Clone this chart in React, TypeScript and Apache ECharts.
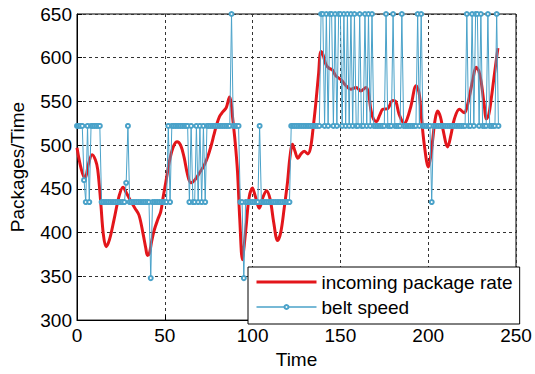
import React, { useEffect, useRef } from "react";
import * as echarts from "echarts";

// incoming package rate: time points and values
const rateTime = [
  0, 2.5, 4.6, 6.5, 8.6, 10.5, 11.8, 13.5, 15, 16.6, 18.5, 21, 24, 26.2, 28, 30.6, 33, 35.3, 37.5, 39.2,
  40.1, 41.2, 42.5, 44, 46, 47.7, 49, 50.6, 53, 55, 57, 59, 61, 63, 64.8, 67, 70, 72.4, 74.5, 76.2,
  78, 79.3, 81.2, 83, 85, 86.9, 87.8, 88.7, 90, 91.4, 92.7, 94.2, 95.2, 96.4, 98, 99.9, 101.5, 103.8, 106, 107.9,
  110, 112, 114.2, 116, 118, 119.9, 121.2, 122.7, 124, 125.8, 127.5, 129.4, 131.5, 133, 134.5, 136, 137.5, 138.9, 140, 141.8,
  143.5, 145.5, 147.5, 150.3, 153.2, 156, 158.9, 161.7, 164.6, 166, 167.4, 168.8, 170.5, 172.5, 174.1, 177, 179.8, 181.5, 183.5, 186.4,
  188, 190.2, 193.1, 194.8, 196, 197.8, 200.1, 201.5, 202.6, 204, 205.4, 207, 208.3, 211.1, 213, 214.9, 217.8, 220.6, 222, 223.5,
  225.5, 227.3, 228.8, 230.2, 231.8, 233.2, 234.5, 235.9, 237.5, 239.7,
];
const rateValue = [
  497, 472, 462, 478, 489, 483, 472, 435, 398, 384, 392, 414, 442, 452, 446, 436, 428, 420, 400, 382,
  374, 376, 390, 403, 415, 424, 440, 458, 485, 499, 504, 500, 486, 466, 457, 460, 469, 477, 487, 498,
  512, 522, 533, 538, 543, 555, 548, 530, 505, 470, 415, 369, 385, 409, 440, 451, 442, 428, 441, 448,
  438, 412, 391, 400, 428, 458, 485, 501, 494, 485, 490, 493, 490, 497, 520, 548, 580, 607, 604, 592,
  588, 586, 579, 575, 568, 564, 566, 562, 566, 560, 540, 530, 527, 535, 541, 542, 551, 550, 535, 525,
  530, 545, 568, 560, 535, 500, 475, 488, 507, 530, 539, 532, 519, 498, 512, 530, 541, 537, 543, 556,
  576, 589, 585, 572, 548, 530, 535, 553, 578, 611,
];

// belt speed, one value per time step t = 0..240
const beltSpeed = [
  522, 522, 522, 522, 460, 435, 522, 435, 522, 522,
  522, 522, 522, 522, 435, 435, 435, 435, 435, 435,
  435, 435, 435, 435, 435, 435, 435, 435, 457, 522,
  435, 435, 435, 435, 435, 435, 435, 435, 435, 435,
  435, 435, 348, 435, 435, 435, 435, 435, 435, 435,
  435, 435, 522, 435, 522, 522, 522, 522, 522, 522,
  522, 522, 522, 522, 435, 522, 435, 435, 522, 435,
  522, 435, 522, 435, 522, 522, 522, 522, 522, 522,
  522, 522, 522, 522, 522, 522, 522, 522, 650, 522,
  522, 522, 522, 435, 435, 348, 435, 435, 435, 435,
  435, 435, 435, 435, 522, 435, 435, 435, 435, 435,
  435, 435, 435, 435, 435, 435, 435, 435, 435, 435,
  435, 435, 522, 522, 522, 522, 522, 522, 522, 522,
  522, 522, 522, 522, 522, 522, 522, 522, 522, 650,
  650, 522, 650, 522, 650, 650, 522, 650, 522, 650,
  650, 522, 650, 522, 650, 522, 650, 522, 650, 522,
  522, 650, 522, 522, 650, 522, 650, 522, 650, 522,
  522, 522, 522, 522, 522, 522, 650, 522, 522, 522,
  650, 522, 522, 522, 522, 650, 522, 522, 522, 522,
  522, 522, 522, 522, 650, 522, 650, 522, 522, 522,
  522, 522, 435, 522, 522, 522, 522, 522, 522, 522,
  522, 522, 522, 522, 522, 522, 522, 522, 522, 522,
  522, 522, 650, 522, 522, 650, 522, 650, 650, 522,
  650, 522, 522, 522, 650, 522, 522, 522, 522, 650,
  522,
];

const seriesNames = ["incoming package rate", "belt speed"];
const xAxisName = "Time";
const yAxisName = "Packages/Time";

export default function App() {
  const ref = useRef<HTMLDivElement>(null);
  useEffect(() => {
    const chart = echarts.init(ref.current!, null, { renderer: "svg" });
    const font = "'Liberation Sans', Arial, sans-serif";
    const axisText = { color: "#000", fontSize: 19, fontFamily: font };
    chart.setOption({
      animation: false,
      backgroundColor: "#fff",
      textStyle: { fontFamily: font },
      grid: {
        left: 77,
        top: 14,
        width: 439,
        height: 310,
        show: true,
        borderColor: "#000",
        borderWidth: 1,
        backgroundColor: "#fff",
      },
      xAxis: {
        type: "value",
        min: 0,
        max: 250,
        interval: 50,
        name: xAxisName,
        nameLocation: "middle",
        nameGap: 25,
        nameTextStyle: axisText,
        axisLine: { show: true, lineStyle: { color: "#000", width: 1 } },
        axisTick: { show: true, inside: true, length: 5, lineStyle: { color: "#000" } },
        axisLabel: { ...axisText, margin: 6 },
        splitLine: { show: true, lineStyle: { color: "#333", type: [3, 3], width: 1 } },
      },
      yAxis: {
        type: "value",
        min: 300,
        max: 650,
        interval: 50,
        name: yAxisName,
        nameLocation: "middle",
        nameGap: 50,
        nameTextStyle: axisText,
        axisLine: { show: true, lineStyle: { color: "#000", width: 1 } },
        axisTick: { show: true, inside: true, length: 5, lineStyle: { color: "#000" } },
        axisLabel: { ...axisText, margin: 5 },
        splitLine: { show: true, lineStyle: { color: "#333", type: [3, 3], width: 1 } },
      },
      legend: {
        left: 248,
        top: 267,
        orient: "vertical",
        padding: [4, 7, 6, 7],
        itemGap: 3,
        itemWidth: 60,
        itemHeight: 5,
        backgroundColor: "#fff",
        borderColor: "#000",
        borderWidth: 1,
        borderRadius: 0,
        textStyle: { color: "#000", fontSize: 19, fontFamily: font, lineHeight: 22 },
        data: [
          { name: seriesNames[0], itemStyle: { opacity: 0 }, lineStyle: { width: 3 } },
          { name: seriesNames[1], lineStyle: { width: 1.5 } },
        ],
      },
      series: [
        {
          name: seriesNames[0],
          type: "line",
          data: rateTime.map((t, i) => [t, rateValue[i]]),
          smooth: 0.35,
          symbol: "none",
          color: "#e3161b",
          lineStyle: { color: "#e3161b", width: 3 },
          z: 2,
        },
        {
          name: seriesNames[1],
          type: "line",
          data: beltSpeed.map((v, i) => [i, v]),
          symbol: "emptyCircle",
          symbolSize: 4,
          color: "#4aa2c9",
          itemStyle: { color: "#4aa2c9", borderWidth: 1 },
          lineStyle: { color: "#4aa2c9", width: 1 },
          z: 3,
        },
      ],
    });
    return () => chart.dispose();
  }, []);
  return (
    <div
      ref={ref}
      style={{ position: "fixed", left: 0, top: 0, width: 535, height: 374 }}
    />
  );
}
